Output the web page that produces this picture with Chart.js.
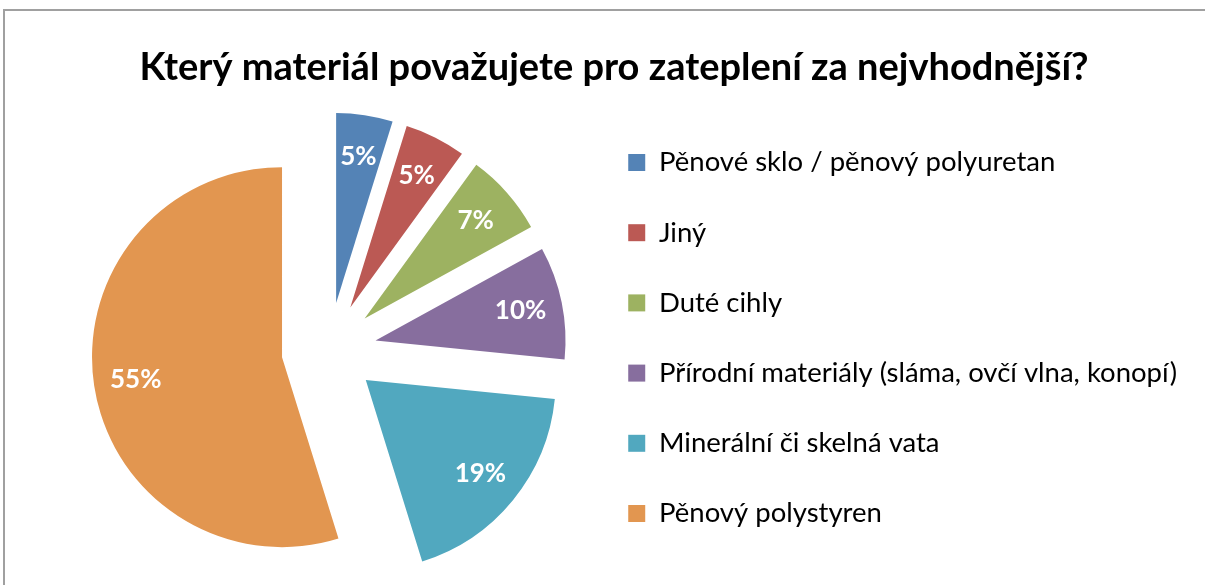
<!DOCTYPE html>
<html lang="cs">
<head>
    <meta charset="UTF-8">
    <title>Zateplení - materiál</title>
    <script src="https://cdn.jsdelivr.net/npm/chart.js"></script>
    <style>
        html, body { margin: 0; padding: 0; background: #fff; overflow: hidden; }
        #frame {
            position: absolute; left: 3px; top: 9px; width: 1400px; height: 800px;
            border-left: 2px solid #a0a0a0; border-top: 2px solid #a0a0a0;
        }
        #myChart { position: absolute; left: 0; top: 0; }
    </style>
</head>
<body>
    <div id="frame"></div>
    <canvas id="myChart" width="1205" height="585"></canvas>

    <script>
        // data (shares in %)
        const titleText = 'Který materiál považujete pro zateplení za nejvhodnější?';
        const categories = [
            'Pěnové sklo / pěnový polyuretan',
            'Jiný',
            'Duté cihly',
            'Přírodní materiály (sláma, ovčí vlna, konopí)',
            'Minerální či skelná vata',
            'Pěnový polystyren'
        ];
        const shares = [4.8, 5.2, 7.0, 9.6, 18.6, 54.8];
        const sliceColors = ['#5483B6', '#BB5954', '#9DB261', '#876E9E', '#51A8BF', '#E29650'];

        const EXPLODE = 47.5;   // px each slice is pulled out
        const LABEL_R = 148;    // label distance from slice tip

        // pulls every slice out along its bisector, then writes the % labels
        const explodePlugin = {
            id: 'explode',
            beforeDatasetDraw(chart, args) {
                const ctx = chart.ctx;
                args.meta.data.forEach(arc => {
                    const mid = (arc.startAngle + arc.endAngle) / 2;
                    ctx.save();
                    ctx.translate(Math.cos(mid) * EXPLODE, Math.sin(mid) * EXPLODE);
                    arc.draw(ctx);
                    ctx.restore();
                });
                return false;
            },
            afterDatasetsDraw(chart) {
                const ctx = chart.ctx;
                const meta = chart.getDatasetMeta(0);
                const total = shares.reduce((a, b) => a + b, 0);
                ctx.save();
                ctx.fillStyle = '#fff';
                ctx.font = 'bold 26px Lato';
                ctx.textAlign = 'center';
                ctx.textBaseline = 'middle';
                meta.data.forEach((arc, i) => {
                    const mid = (arc.startAngle + arc.endAngle) / 2;
                    const r = EXPLODE + LABEL_R;
                    const txt = Math.round(shares[i] / total * 100) + '%';
                    ctx.fillText(txt, arc.x + Math.cos(mid) * r, arc.y + Math.sin(mid) * r);
                });
                ctx.restore();
            }
        };

        const ctx = document.getElementById('myChart').getContext('2d');
        new Chart(ctx, {
            type: 'pie',
            data: {
                labels: categories,
                datasets: [{
                    data: shares,
                    backgroundColor: sliceColors,
                    borderWidth: 0,
                    radius: 190,
                    clip: false
                }]
            },
            options: {
                responsive: false,
                animation: false,
                events: [],
                layout: {
                    padding: { left: 41, right: 18, top: 0, bottom: 5 }
                },
                plugins: {
                    title: {
                        display: true,
                        text: titleText,
                        color: '#000',
                        font: { family: 'Lato', size: 38, weight: 'bold', lineHeight: 1.2 },
                        padding: { top: 45.2, bottom: 29.2 }
                    },
                    legend: {
                        position: 'right',
                        align: 'start',
                        fullSize: false,
                        title: {
                            display: true,
                            text: '',
                            padding: 0,
                            font: { size: 10, lineHeight: '17.5px' }
                        },
                        labels: {
                            boxWidth: 17,
                            boxHeight: 17,
                            padding: 11.25,
                            color: '#000',
                            font: { family: 'Lato', size: 27.5, lineHeight: '58.95px' },
                            generateLabels() {
                                // one-line arrays so the row height follows lineHeight
                                return categories.map((c, i) => ({
                                    text: [c],
                                    fillStyle: sliceColors[i],
                                    strokeStyle: sliceColors[i],
                                    fontColor: '#000',
                                    lineWidth: 0,
                                    hidden: false,
                                    index: i
                                }));
                            }
                        }
                    },
                    tooltip: { enabled: false }
                }
            },
            plugins: [explodePlugin]
        });
    </script>
</body>
</html>
